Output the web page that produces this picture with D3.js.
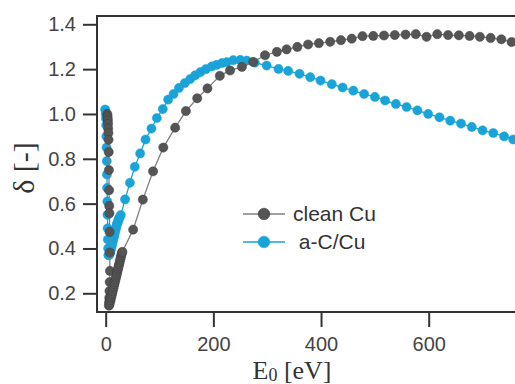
<!DOCTYPE html>
<html>
<head>
<meta charset="utf-8">
<script src="https://cdnjs.cloudflare.com/ajax/libs/d3/7.8.5/d3.min.js"></script>
<style>
  body { margin: 0; background: #fff; }
  svg { display: block; }
</style>
</head>
<body>
<div id="chart"></div>
<script>
// clean Cu (grey), low energy part then the 20 eV steps
var cuE = [3, 3.3, 3.6, 4, 4.3, 4.6, 5, 5.3, 5.6, 6, 6.3, 6.6, 7, 7.3, 7.6, 7.8, 7.4, 7, 6.6, 6.3, 6,
  7, 8, 9, 10, 11, 12, 13, 14, 15, 16, 17, 18, 19, 20, 21, 22, 23, 24, 25, 26, 27, 28, 29, 30, 31,
  51, 69, 88, 107, 129, 149, 170, 189, 212, 231, 253, 274, 296, 318, 336, 356, 376, 396, 417, 437,
  457, 477, 497, 517, 537, 557, 576, 596, 616, 636, 656, 676, 695, 715, 735, 754];
var cuD = [1.0, 0.99, 0.98, 0.97, 0.955, 0.935, 0.915, 0.885, 0.83, 0.75, 0.66, 0.59, 0.557, 0.474, 0.382, 0.30, 0.25, 0.21, 0.18, 0.16, 0.145,
  0.15, 0.16, 0.17, 0.18, 0.19, 0.2, 0.21, 0.22, 0.23, 0.24, 0.25, 0.26, 0.27, 0.28, 0.29, 0.3, 0.31, 0.32, 0.33, 0.34, 0.35, 0.36, 0.37, 0.38, 0.385,
  0.484, 0.618, 0.744, 0.85, 0.939, 1.013, 1.07, 1.114, 1.17, 1.194, 1.21, 1.232, 1.262, 1.277, 1.288, 1.299, 1.31, 1.316, 1.322, 1.329,
  1.336, 1.347, 1.348, 1.35, 1.352, 1.354, 1.356, 1.344, 1.356, 1.352, 1.351, 1.348, 1.344, 1.339, 1.333, 1.321];

// a-C/Cu (blue)
var acE = [-1, 0, 0.5, 1, 1.3, 1.6, 2, 2.3, 2.6, 3, 3.3, 3.6, 4, 4.5, 5,
  6, 7, 8, 9, 10, 11, 12, 13, 14, 15, 16, 17, 18, 19, 20, 21, 22, 23, 24, 25, 26,
  28, 36, 45, 54, 64, 74, 85, 95, 106, 116, 126, 136, 147, 157, 166, 176, 186, 197, 206, 216, 225,
  237, 250, 262, 277, 299, 321, 339, 360, 380, 399, 420, 440, 460, 480, 500, 519, 539, 559, 579, 599,
  620, 640, 660, 680, 700, 720, 740, 757];
var acD = [1.02, 1.0, 0.98, 0.95, 0.9, 0.85, 0.79, 0.73, 0.67, 0.61, 0.55, 0.49, 0.44, 0.4, 0.37,
  0.37, 0.375, 0.38, 0.39, 0.4, 0.41, 0.42, 0.43, 0.44, 0.45, 0.46, 0.47, 0.48, 0.49, 0.5, 0.51, 0.515, 0.52, 0.53, 0.535, 0.54,
  0.549, 0.619, 0.693, 0.764, 0.824, 0.886, 0.935, 0.982, 1.022, 1.064, 1.089, 1.116, 1.138, 1.156, 1.172, 1.187, 1.2, 1.212, 1.219, 1.227, 1.231,
  1.24, 1.241, 1.238, 1.229, 1.216, 1.201, 1.192, 1.179, 1.164, 1.149, 1.133, 1.118, 1.104, 1.089, 1.076, 1.06, 1.045, 1.031, 1.016, 1.0,
  0.985, 0.97, 0.957, 0.942, 0.927, 0.915, 0.9, 0.886];

var xTicks = [0, 200, 400, 600];
var yTicks = [0.2, 0.4, 0.6, 0.8, 1.0, 1.2, 1.4];
var seriesNames = ["clean Cu", " a-C/Cu"];
var seriesColors = ["#555555", "#19a3d8"];
var lineColors = ["#808080", "#19a3d8"];

(function() {
  var W = 515, H = 384;
  var m = { left: 97, right: 515, top: 16, bottom: 312 };

  var svg = d3.select('#chart').append('svg')
    .attr('width', W)
    .attr('height', H);

  var x = d3.scaleLinear().domain([0, 600]).range([105.7, 428.7]);
  var y = d3.scaleLinear().domain([0.2, 1.4]).range([293.3, 24.3]);

  var series = [
    { name: seriesNames[0], pts: d3.zip(cuE, cuD), fill: seriesColors[0], line: lineColors[0], stroke: "#3c3c3c" },
    { name: seriesNames[1], pts: d3.zip(acE, acD), fill: seriesColors[1], line: lineColors[1], stroke: "#19a3d8" }
  ];

  svg.append('clipPath').attr('id', 'plot')
    .append('rect')
    .attr('x', m.left).attr('y', m.top)
    .attr('width', m.right - m.left).attr('height', m.bottom - m.top);

  var plot = svg.append('g').attr('clip-path', 'url(#plot)');

  var line = d3.line()
    .x(function(d) { return x(d[0]); })
    .y(function(d) { return y(d[1]); });

  // blue first so the grey sits on top where they cross
  [series[1], series[0]].forEach(function(s) {
    plot.append('path')
      .datum(s.pts)
      .attr('d', line)
      .attr('fill', 'none')
      .attr('stroke', s.line)
      .attr('stroke-width', 1.3);
    plot.selectAll(null)
      .data(s.pts)
      .enter().append('circle')
      .attr('cx', function(d) { return x(d[0]); })
      .attr('cy', function(d) { return y(d[1]); })
      .attr('r', 4.6)
      .attr('fill', s.fill)
      .attr('stroke', s.stroke)
      .attr('stroke-opacity', 0.6)
      .attr('stroke-width', 0.8);
  });

  // axes
  var yAxis = d3.axisLeft(y).tickValues(yTicks).tickFormat(d3.format('.1f'))
    .tickSize(14).tickSizeOuter(0).tickPadding(7);
  var xAxis = d3.axisBottom(x).tickValues(xTicks).tickFormat(d3.format('d'))
    .tickSize(15).tickSizeOuter(0).tickPadding(10);

  var gy = svg.append('g').attr('transform', 'translate(' + m.left + ',0)').call(yAxis);
  var gx = svg.append('g').attr('transform', 'translate(0,' + m.bottom + ')').call(xAxis);

  [gx, gy].forEach(function(g) {
    g.select('.domain').remove();
    g.selectAll('.tick line').attr('stroke', '#333').attr('stroke-width', 2);
    g.selectAll('.tick text')
      .attr('fill', '#444')
      .style('font-family', '"Liberation Sans", Arial, sans-serif')
      .style('font-size', '20px');
  });

  // frame: left, top and bottom spines (the right side runs off the picture)
  svg.append('path')
    .attr('d', 'M' + m.right + ',' + m.top + 'H' + m.left + 'V' + m.bottom + 'H' + m.right)
    .attr('fill', 'none')
    .attr('stroke', '#333')
    .attr('stroke-width', 2);

  // axis titles
  var xt = svg.append('text')
    .attr('x', 292).attr('y', 379)
    .attr('text-anchor', 'middle')
    .attr('fill', '#333')
    .style('font-family', '"Liberation Serif", "Times New Roman", serif')
    .style('font-size', '26px');
  xt.append('tspan').text('E');
  xt.append('tspan').attr('font-size', '18px').attr('dy', 2).text('0');
  xt.append('tspan').attr('dy', -2).text(' [eV]');

  svg.append('text')
    .attr('transform', 'translate(34,168) rotate(-90)')
    .attr('text-anchor', 'middle')
    .attr('fill', '#333')
    .style('font-family', '"Liberation Serif", "Times New Roman", serif')
    .style('font-size', '30px')
    .text('\u03b4 [-]');

  // legend
  var legend = svg.append('g');
  series.forEach(function(s, i) {
    var ly = 214 + i * 28;
    legend.append('line')
      .attr('x1', 243).attr('x2', 285)
      .attr('y1', ly).attr('y2', ly)
      .attr('stroke', s.line).attr('stroke-width', 1.6);
    legend.append('circle')
      .attr('cx', 264).attr('cy', ly).attr('r', 5.8)
      .attr('fill', s.fill).attr('stroke', s.stroke).attr('stroke-opacity', 0.6);
    legend.append('text')
      .attr('x', 293).attr('y', ly + 7)
      .attr('fill', '#333')
      .style('white-space', 'pre')
      .style('font-family', '"Liberation Sans", Arial, sans-serif')
      .style('font-size', '21px')
      .text(s.name);
  });
})();
</script>
</body>
</html>
